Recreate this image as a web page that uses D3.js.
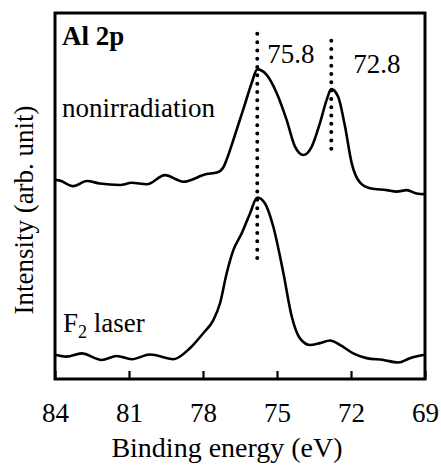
<!DOCTYPE html>
<html>
<head>
<meta charset="utf-8">
<script src="https://cdn.jsdelivr.net/npm/d3@7"></script>
</head>
<body style="margin:0">
<svg id="fig" width="441" height="466" style="font-family: 'Liberation Serif'"></svg>
<script>
// binding energy (eV) and intensity (arb. unit)
const nonirrEnergy = [84.0, 83.8, 83.26, 82.71, 82.18, 81.36, 80.89, 80.28, 79.54, 78.8, 77.85, 77.44, 77.18, 76.99, 76.77, 76.3, 76.03, 75.8, 75.42, 75.01, 74.61, 74.27, 73.93, 73.59, 73.26, 72.99, 72.8, 72.52, 72.24, 71.97, 71.64, 71.23, 70.55, 70.15, 69.74, 69.34, 69.0];
const nonirrIntensity = [54.4, 54.2, 52.7, 54.1, 53.4, 53.0, 53.6, 53.2, 55.7, 53.9, 56.0, 56.4, 57.8, 60.9, 65.3, 75.1, 80.8, 84.6, 83.1, 78.1, 70.8, 63.5, 61.2, 63.5, 69.9, 76.2, 79.2, 77.1, 68.9, 58.9, 53.7, 52.1, 51.6, 51.2, 51.6, 50.7, 50.5];

const laserEnergy = [84.0, 83.53, 82.92, 82.11, 81.5, 80.89, 80.15, 79.2, 78.53, 77.99, 77.58, 77.31, 77.04, 76.77, 76.43, 76.09, 75.8, 75.49, 75.15, 74.74, 74.4, 74.07, 73.66, 73.26, 72.85, 72.45, 71.91, 71.37, 70.69, 70.08, 69.61, 69.0];
const laserIntensity = [6.6, 6.1, 7.0, 5.2, 6.3, 5.4, 6.7, 5.4, 8.4, 12.5, 16.1, 20.7, 28.9, 35.2, 39.8, 45.3, 49.6, 48.0, 41.6, 28.9, 17.0, 11.1, 9.3, 9.8, 10.5, 9.3, 7.0, 5.7, 5.2, 4.5, 5.7, 6.6];

const peakEnergy = [75.8, 72.8];
const peakLabels = ['75.8', '72.8'];
const peakLineTop = [94.3, 92.4];
const peakLineBottom = [31.7, 62.6];
const peakLabelY = [86.3, 83.6];

const xTicks = [84, 81, 78, 75, 72, 69];

const serif = '"Liberation Serif"';
const labelShift = [10, 22];

const margin = { top: 13, right: 16, bottom: 87, left: 55 };
const width = 441 - margin.left - margin.right;
const height = 466 - margin.top - margin.bottom;

const svg = d3.select('#fig');
const g = svg.append('g').attr('transform', `translate(${margin.left},${margin.top})`);

const x = d3.scaleLinear().domain([84, 69]).range([0, width]);
const y = d3.scaleLinear().domain([0, 100]).range([height, 0]);

function serifText(sel, size) {
  return sel.style('font-family', serif, 'important').attr('font-size', size);
}

const xAxis = g.append('g')
  .attr('transform', `translate(0,${height})`)
  .call(d3.axisBottom(x).tickValues(xTicks).tickSizeInner(-8).tickSizeOuter(0).tickPadding(24));
xAxis.attr('font-family', null).attr('font-size', null);
xAxis.select('.domain').remove();
xAxis.selectAll('.tick line').attr('stroke', '#000').attr('stroke-width', 2.2);
serifText(xAxis.selectAll('.tick text'), 27).attr('fill', '#000');

g.append('rect')
  .attr('x', 0).attr('y', 0)
  .attr('width', width).attr('height', height)
  .attr('fill', 'none')
  .attr('stroke', '#000')
  .attr('stroke-width', 3);

// dotted peak markers
peakEnergy.forEach((e, i) => {
  g.append('line')
    .attr('x1', x(e)).attr('x2', x(e))
    .attr('y1', y(peakLineTop[i])).attr('y2', y(peakLineBottom[i]))
    .attr('stroke', '#000')
    .attr('stroke-width', 4)
    .attr('stroke-linecap', 'round')
    .attr('stroke-dasharray', '0,8.3');
  serifText(g.append('text'), 27)
    .attr('x', x(e) + labelShift[i])
    .attr('y', y(peakLabelY[i]))
    .text(peakLabels[i]);
});

const line = d3.line()
  .x(d => x(d[0]))
  .y(d => y(d[1]))
  .curve(d3.curveMonotoneX);

[[nonirrEnergy, nonirrIntensity], [laserEnergy, laserIntensity]].forEach(([es, is]) => {
  g.append('path')
    .datum(d3.zip(es, is))
    .attr('fill', 'none')
    .attr('stroke', '#000')
    .attr('stroke-width', 2.6)
    .attr('stroke-linejoin', 'round')
    .attr('d', line);
});

serifText(g.append('text'), 27)
  .attr('x', 7).attr('y', 32)
  .attr('font-weight', 'bold')
  .text('Al 2p');

serifText(g.append('text'), 27)
  .attr('x', 7).attr('y', 104)
  .text('nonirradiation');

const laserLabel = serifText(g.append('text'), 27)
  .attr('x', 8).attr('y', 319);
laserLabel.append('tspan').text('F');
laserLabel.append('tspan').attr('font-size', 18).attr('dy', 6).text('2');
laserLabel.append('tspan').attr('dy', -6).text(' laser');

serifText(svg.append('text'), 28)
  .attr('x', 227).attr('y', 457)
  .attr('text-anchor', 'middle')
  .text('Binding energy (eV)');

serifText(svg.append('text'), 27)
  .attr('transform', 'translate(33,210) rotate(-90)')
  .attr('text-anchor', 'middle')
  .text('Intensity (arb. unit)');
</script>
</body>
</html>
